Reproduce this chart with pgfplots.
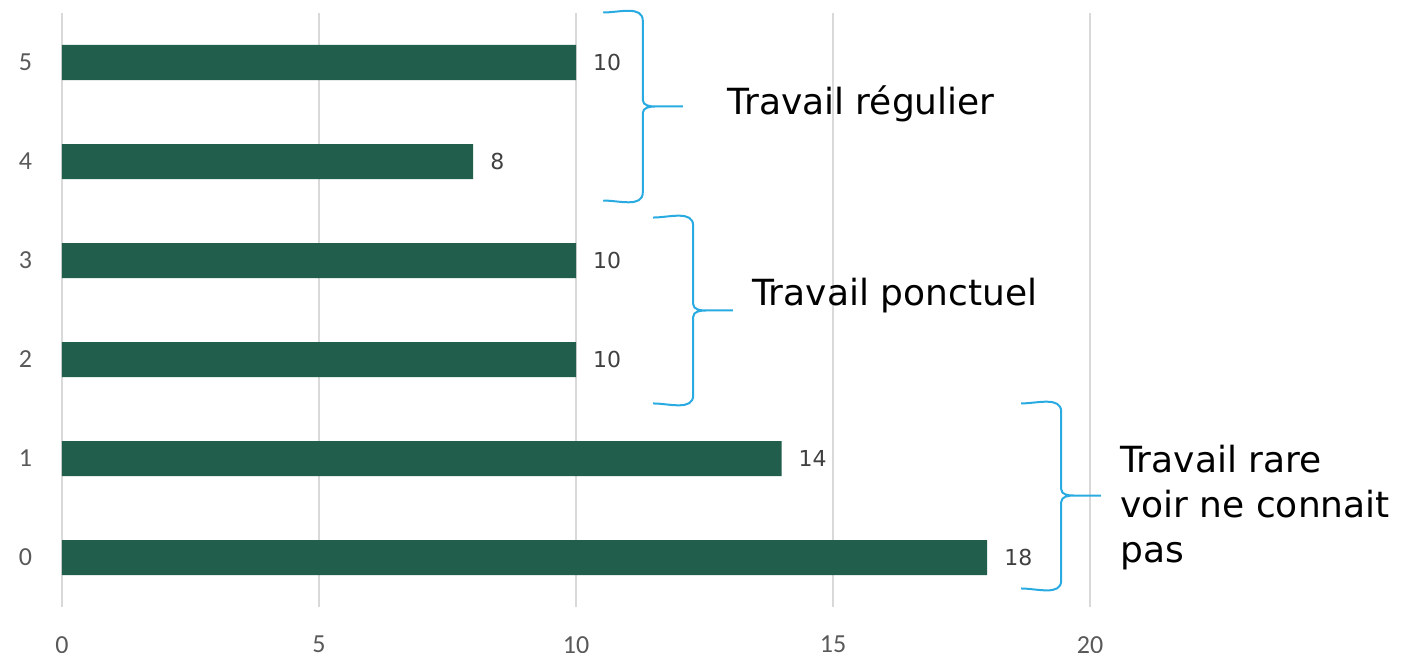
\documentclass[border=0pt]{standalone}
\usepackage{fontspec}
\setmainfont{DejaVu Sans}
\newfontfamily\tickfont{Carlito}
\usepackage{pgfplots}
\pgfplotsset{compat=1.18}
\usetikzlibrary{calc}
\definecolor{barc}{RGB}{33,94,76}
\definecolor{bracec}{RGB}{41,171,226}
\definecolor{gridc}{RGB}{217,217,217}
\definecolor{tickc}{RGB}{89,89,89}
\definecolor{labc}{RGB}{64,64,64}
\begin{document}
\begin{tikzpicture}
\begin{axis}[
  scale only axis, width=514pt, height=297pt,
  xmin=0, xmax=20, ymin=-0.5, ymax=5.5,
  xbar, bar width=17.5pt,
  axis line style={draw=none},
  xtick={0,5,10,15,20}, ytick={0,1,2,3,4,5},
  major tick length=0pt,
  xmajorgrids, grid style={gridc, line width=1pt},
  /pgf/number format/assume math mode=true,
  ticklabel style={font=\tickfont\fontsize{13}{13}\selectfont, text=tickc},
  xticklabel style={inner sep=0pt, yshift=-14.4pt},
  yticklabel style={xshift=-11.5pt},
  clip=false,
  nodes near coords,
  nodes near coords style={font=\fontsize{11}{11}\selectfont, text=labc, anchor=west, xshift=5pt},
]
\addplot[fill=barc, draw=none] coordinates {(18,0) (14,1) (10,2) (10,3) (8,4) (10,5)};
\coordinate (ll) at (rel axis cs:0,0);
\coordinate (ur) at (rel axis cs:1,1);
% braces
\draw[bracec, line width=1pt]
  (axis cs:10.53,5.505) to[out=0,in=90] (axis cs:11.30,5.42) -- (axis cs:11.30,4.62)
  to[out=-90,in=180] (axis cs:11.55,4.556) -- (axis cs:12.08,4.556)
  (axis cs:11.55,4.556) to[out=180,in=90] (axis cs:11.30,4.49) -- (axis cs:11.30,3.69)
  to[out=-90,in=0] (axis cs:10.53,3.606);
\draw[bracec, line width=1pt]
  (axis cs:11.50,3.434) to[out=0,in=90] (axis cs:12.28,3.35) -- (axis cs:12.28,2.56)
  to[out=-90,in=180] (axis cs:12.53,2.495) -- (axis cs:13.05,2.495)
  (axis cs:12.53,2.495) to[out=180,in=90] (axis cs:12.28,2.43) -- (axis cs:12.28,1.64)
  to[out=-90,in=0] (axis cs:11.50,1.556);
\draw[bracec, line width=1pt]
  (axis cs:18.66,1.556) to[out=0,in=90] (axis cs:19.44,1.47) -- (axis cs:19.44,0.69)
  to[out=-90,in=180] (axis cs:19.69,0.626) -- (axis cs:20.21,0.626)
  (axis cs:19.69,0.626) to[out=180,in=90] (axis cs:19.44,0.56) -- (axis cs:19.44,-0.23)
  to[out=-90,in=0] (axis cs:18.66,-0.313);
\node[anchor=west, inner sep=0pt, font=\fontsize{18}{22.5}\selectfont] at (axis cs:12.94,4.586) {Travail régulier};
\node[anchor=west, inner sep=0pt, font=\fontsize{18}{22.5}\selectfont] at (axis cs:13.42,2.646) {Travail ponctuel};
\node[anchor=west, inner sep=0pt, align=left, font=\fontsize{18}{22.5}\selectfont] at (axis cs:20.58,0.505) {Travail rare\\voir ne connait\\pas};
\end{axis}
\pgfresetboundingbox
\path ($(ll)+(-31pt,-23pt)$) rectangle ($(ur)+(159pt,6.5pt)$);
\end{tikzpicture}
\end{document}
